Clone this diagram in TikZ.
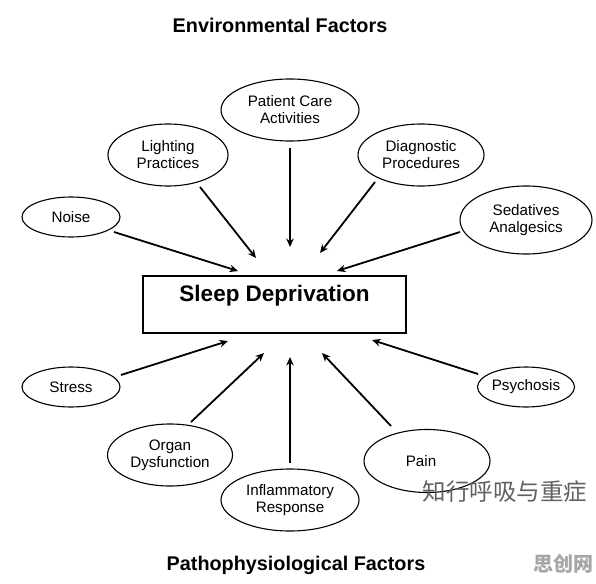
\documentclass[tikz,border=0pt]{standalone}
\usepackage{fontspec}
\setmainfont{Liberation Sans}
\newfontfamily\cjk{Noto Sans CJK SC}
\usetikzlibrary{shapes.geometric,arrows.meta}
\begin{document}
\begin{tikzpicture}[x=1pt,y=-1pt,
  oval/.style={draw, ellipse, line width=1.1pt, inner sep=0pt, align=center,
    font=\fontsize{15.2}{17}\selectfont},
  arr/.style={-{Stealth[length=8.5pt,width=7.5pt]}, line width=1.8pt},
  heading/.style={font=\bfseries\fontsize{19.8}{22}\selectfont},
  mainbox/.style={draw, line width=1.7pt, inner xsep=0pt, inner ysep=0pt,
    minimum width=263pt, text height=25pt, text depth=32pt,
    font=\bfseries\fontsize{22.5}{25}\selectfont}]
\useasboundingbox (0,0) rectangle (596,583);
\fill[white] (0,0) rectangle (596,583);

% titles
\node[heading] (envtitle) at (280,25) {Environmental Factors};
\node[heading] (pathtitle) at (296,565) {Pathophysiological Factors};

% central box
\node[mainbox] (box) at (274.5,304.5) {Sleep Deprivation};

% environmental factors
\node[oval, minimum width=138pt, minimum height=62pt] (patient) at (290,110) {Patient Care\\Activities};
\node[oval, minimum width=120pt, minimum height=62pt] (lighting) at (168,155) {Lighting\\Practices};
\node[oval, minimum width=126pt, minimum height=62pt] (diag) at (421,155) {Diagnostic\\Procedures};
\node[oval, minimum width=98pt, minimum height=40pt] (noise) at (71,217) {Noise};
\node[oval, minimum width=132pt, minimum height=68pt] (sed) at (526,220) {Sedatives\\Analgesics};

% pathophysiological factors
\node[oval, minimum width=98pt, minimum height=40pt] (stress) at (71,387) {Stress};
\node[oval, minimum width=125pt, minimum height=62pt] (organ) at (170,455) {Organ\\Dysfunction};
\node[oval, minimum width=138pt, minimum height=62pt] (inflam) at (290,500) {Inflammatory\\Response};
\node[oval, minimum width=126pt, minimum height=63pt] (pain) at (427,461) {\hspace*{-12pt}Pain};
\node[oval, minimum width=97pt, minimum height=40pt] (psych) at (526,387) {Psychosis};

% arrow end points
\coordinate (noiseS) at (114,232);  \coordinate (noiseE) at (238,271);
\coordinate (lightS) at (200,187);  \coordinate (lightE) at (256,258);
\coordinate (patS) at (290,148);    \coordinate (patE) at (290,247);
\coordinate (diagS) at (375,182);   \coordinate (diagE) at (320,253);
\coordinate (sedS) at (460,232);    \coordinate (sedE) at (337,271);
\coordinate (stressS) at (121,375); \coordinate (stressE) at (228,341);
\coordinate (organS) at (191,422);  \coordinate (organE) at (264,353);
\coordinate (inflS) at (290,463);   \coordinate (inflE) at (290,357);
\coordinate (painS) at (391,426);   \coordinate (painE) at (322,353);
\coordinate (psychS) at (478,374);  \coordinate (psychE) at (372,340);

\draw[arr] (noiseS) -- (noiseE);
\draw[arr] (lightS) -- (lightE);
\draw[arr] (patS) -- (patE);
\draw[arr] (diagS) -- (diagE);
\draw[arr] (sedS) -- (sedE);
\draw[arr] (stressS) -- (stressE);
\draw[arr] (organS) -- (organE);
\draw[arr] (inflS) -- (inflE);
\draw[arr] (painS) -- (painE);
\draw[arr] (psychS) -- (psychE);

% watermarks
\node[font=\cjk\fontsize{23.5}{24}\selectfont, text=black!62] (wm1) at (505,492) {知行呼吸与重症};
\node[font=\cjk\bfseries\fontsize{20}{20}\selectfont, text=black!35] (wm2) at (563,564) {思创网};
\end{tikzpicture}
\end{document}
